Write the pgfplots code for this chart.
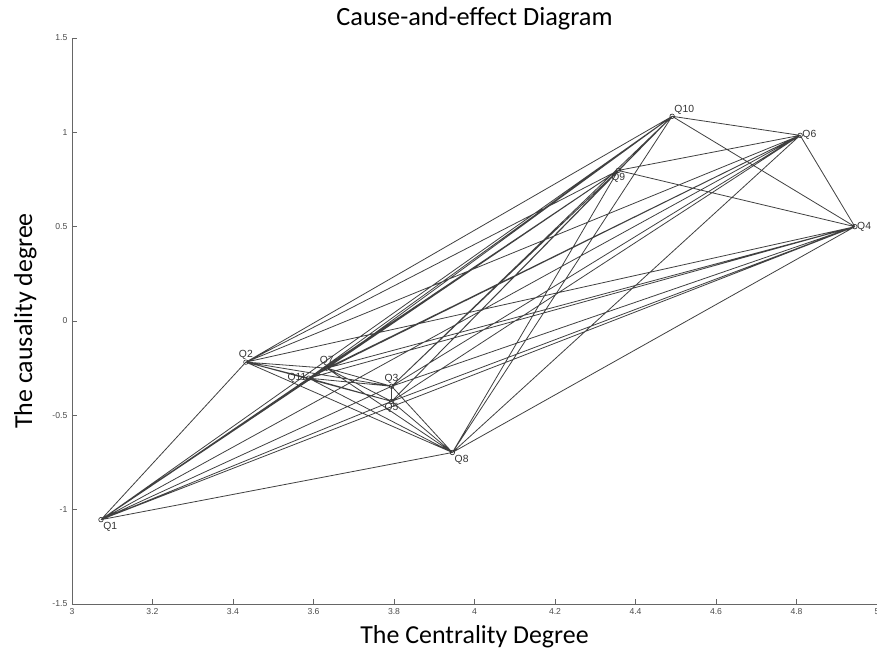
\documentclass[border=0pt]{standalone}
\usepackage{fontspec}
\setmainfont{Carlito}
\newfontfamily\arialf{Liberation Sans}
\usepackage{pgfplots}
\pgfplotsset{compat=1.18}

\begin{document}
\begin{tikzpicture}
\begin{axis}[
  at={(0,0)}, anchor=south west,
  scale only axis, width=603.75bp, height=424.5bp,
  xmin=3, xmax=5, ymin=-1.5, ymax=1.5,
  axis lines*=left,
  axis line style={black!60, line width=0.6bp},
  tick align=inside,
  major tick length=4bp,
  tick style={black!60, line width=0.5bp},
  xtick={3,3.2,3.4,3.6,3.8,4,4.2,4.4,4.6,4.8,5},
  xticklabels={3,3.2,3.4,3.6,3.8,4,4.2,4.4,4.6,4.8,5},
  ytick={-1.5,-1,-0.5,0,0.5,1,1.5},
  yticklabels={-1.5,-1,-0.5,0,0.5,1,1.5},
  ticklabel style={font=\arialf\fontsize{6.5}{7}\selectfont, text=black!70},
  /pgf/number format/assume math mode=true,
  title={Cause-and-effect Diagram},
  title style={font=\fontsize{19.8}{22}\selectfont, at={(axis description cs:0.5,1.021)}, anchor=center, yshift=0pt},
  xlabel={The Centrality Degree},
  xlabel style={font=\fontsize{19.5}{22}\selectfont, at={(axis description cs:0.5,-0.0575)}, anchor=center},
  ylabel={The causality degree},
  ylabel style={font=\fontsize{19.5}{22}\selectfont, at={(axis description cs:-0.058,0.5)}, anchor=center},
  unbounded coords=jump,
  clip=false,
  lab/.style={only marks, mark=o, mark size=1.7bp, mark options={draw=black!80, line width=0.5bp},
    point meta=explicit symbolic, nodes near coords,
    every node near coord/.append style={anchor=#1, font=\arialf\fontsize{7.8}{8}\selectfont, text=black!80, inner sep=1.5bp}},
]
\addplot[black!75, line width=0.6bp, no marks] coordinates {
(3.072,-1.053) (3.432,-0.218) (nan,nan)
(3.072,-1.053) (3.794,-0.346) (nan,nan)
(3.072,-1.053) (4.945,0.500) (nan,nan)
(3.072,-1.053) (3.794,-0.426) (nan,nan)
(3.072,-1.053) (4.809,0.984) (nan,nan)
(3.072,-1.053) (3.633,-0.250) (nan,nan)
(3.072,-1.053) (3.945,-0.697) (nan,nan)
(3.072,-1.053) (4.357,0.798) (nan,nan)
(3.072,-1.053) (4.491,1.085) (nan,nan)
(3.072,-1.053) (3.588,-0.303) (nan,nan)
(3.432,-0.218) (3.794,-0.346) (nan,nan)
(3.432,-0.218) (4.945,0.500) (nan,nan)
(3.432,-0.218) (3.794,-0.426) (nan,nan)
(3.432,-0.218) (4.809,0.984) (nan,nan)
(3.432,-0.218) (3.633,-0.250) (nan,nan)
(3.432,-0.218) (3.945,-0.697) (nan,nan)
(3.432,-0.218) (4.357,0.798) (nan,nan)
(3.432,-0.218) (4.491,1.085) (nan,nan)
(3.432,-0.218) (3.588,-0.303) (nan,nan)
(3.794,-0.346) (4.945,0.500) (nan,nan)
(3.794,-0.346) (3.794,-0.426) (nan,nan)
(3.794,-0.346) (4.809,0.984) (nan,nan)
(3.794,-0.346) (3.633,-0.250) (nan,nan)
(3.794,-0.346) (3.945,-0.697) (nan,nan)
(3.794,-0.346) (4.357,0.798) (nan,nan)
(3.794,-0.346) (4.491,1.085) (nan,nan)
(3.794,-0.346) (3.588,-0.303) (nan,nan)
(4.945,0.500) (3.794,-0.426) (nan,nan)
(4.945,0.500) (4.809,0.984) (nan,nan)
(4.945,0.500) (3.633,-0.250) (nan,nan)
(4.945,0.500) (3.945,-0.697) (nan,nan)
(4.945,0.500) (4.357,0.798) (nan,nan)
(4.945,0.500) (4.491,1.085) (nan,nan)
(4.945,0.500) (3.588,-0.303) (nan,nan)
(3.794,-0.426) (4.809,0.984) (nan,nan)
(3.794,-0.426) (3.633,-0.250) (nan,nan)
(3.794,-0.426) (3.945,-0.697) (nan,nan)
(3.794,-0.426) (4.357,0.798) (nan,nan)
(3.794,-0.426) (4.491,1.085) (nan,nan)
(3.794,-0.426) (3.588,-0.303) (nan,nan)
(4.809,0.984) (3.633,-0.250) (nan,nan)
(4.809,0.984) (3.945,-0.697) (nan,nan)
(4.809,0.984) (4.357,0.798) (nan,nan)
(4.809,0.984) (4.491,1.085) (nan,nan)
(4.809,0.984) (3.588,-0.303) (nan,nan)
(3.633,-0.250) (3.945,-0.697) (nan,nan)
(3.633,-0.250) (4.357,0.798) (nan,nan)
(3.633,-0.250) (4.491,1.085) (nan,nan)
(3.633,-0.250) (3.588,-0.303) (nan,nan)
(3.945,-0.697) (4.357,0.798) (nan,nan)
(3.945,-0.697) (4.491,1.085) (nan,nan)
(3.945,-0.697) (3.588,-0.303) (nan,nan)
(4.357,0.798) (4.491,1.085) (nan,nan)
(4.357,0.798) (3.588,-0.303) (nan,nan)
(4.491,1.085) (3.588,-0.303)
};
\addplot[lab=north west] coordinates {(3.072,-1.053) [Q1] (3.945,-0.697) [Q8]};
\addplot[lab=south] coordinates {(3.432,-0.218) [Q2] (3.794,-0.346) [Q3] (3.633,-0.250) [Q7]};
\addplot[lab=west] coordinates {(4.945,0.500) [Q4] (4.809,0.984) [Q6]};
\addplot[lab=north] coordinates {(3.794,-0.426) [Q5] (4.357,0.798) [Q9]};
\addplot[lab=south west] coordinates {(4.491,1.085) [Q10]};
\addplot[lab=east] coordinates {(3.588,-0.303) [Q11]};
\end{axis}
\pgfresetboundingbox
\path (-54bp,-34.5bp) rectangle (603.75bp,453bp);
\end{tikzpicture}
\end{document}
